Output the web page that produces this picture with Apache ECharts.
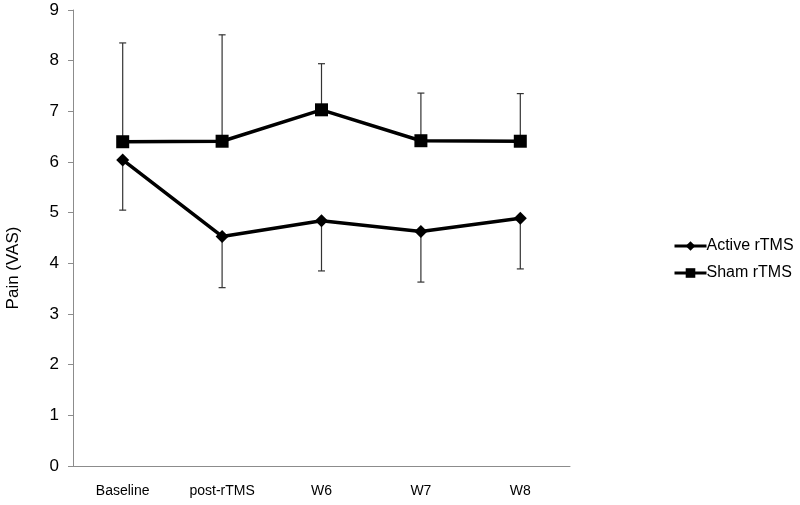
<!DOCTYPE html>
<html>
<head>
<meta charset="utf-8">
<script src="https://cdn.jsdelivr.net/npm/echarts@6/dist/echarts.min.js"></script>
<style>
  html, body { margin: 0; padding: 0; background: #fff; }
  #chart { width: 800px; height: 505px; }
</style>
</head>
<body>
<div id="chart"></div>
<script>
const categories = ['Baseline', 'post-rTMS', 'W6', 'W7', 'W8'];
const activeMean = [6.04, 4.53, 4.84, 4.63, 4.89];
const activeLow = [5.05, 3.52, 3.85, 3.63, 3.89];   // mean - SD
const shamMean = [6.40, 6.41, 7.03, 6.42, 6.41];
const shamHigh = [8.35, 8.51, 7.94, 7.36, 7.35];    // mean + SD
const yTicks = [0, 1, 2, 3, 4, 5, 6, 7, 8, 9];

const font = 'Liberation Sans, Arial, sans-serif';
const diamond = 'path://M0,-1L1,0L0,1L-1,0Z';

// whisker + cap for each point
function errorBars(means, bounds) {
  return means.map((m, i) => [i, m, bounds[i]]);
}

function renderWhisker(params, api) {
  const x = api.value(0);
  const p0 = api.coord([x, api.value(1)]);
  const p1 = api.coord([x, api.value(2)]);
  const style = { stroke: '#333', lineWidth: 1.2 };
  return {
    type: 'group',
    children: [
      { type: 'line', shape: { x1: p0[0], y1: p0[1], x2: p1[0], y2: p1[1] }, style: style },
      { type: 'line', shape: { x1: p1[0] - 3.5, y1: p1[1], x2: p1[0] + 3.5, y2: p1[1] }, style: style }
    ]
  };
}

const myChart = echarts.init(document.getElementById('chart'));

const option = {
  animation: false,
  backgroundColor: '#fff',
  grid: { left: 73, right: 230, top: 10, bottom: 39 },
  legend: {
    orient: 'vertical',
    left: 668,
    top: 233,
    itemWidth: 32,
    itemHeight: 12,
    itemGap: 11,
    data: ['Active rTMS', 'Sham rTMS'],
    lineStyle: { width: 3 },
    textStyle: { fontFamily: font, fontSize: 16, color: '#000', padding: [0, 0, 0, -5] }
  },
  xAxis: {
    type: 'category',
    data: categories,
    axisLine: { lineStyle: { color: '#8c8c8c', width: 1 } },
    axisTick: { length: 5, lineStyle: { color: '#8c8c8c' } },
    axisLabel: { fontFamily: font, fontSize: 14, color: '#000', margin: 18 }
  },
  yAxis: {
    type: 'value',
    min: 0,
    max: yTicks[yTicks.length - 1],
    interval: 1,
    splitLine: { show: false },
    axisLine: { show: true, lineStyle: { color: '#8c8c8c', width: 1 } },
    axisTick: { show: true, length: 5, lineStyle: { color: '#8c8c8c' } },
    axisLabel: { fontFamily: font, fontSize: 17, color: '#000', margin: 14 }
  },
  graphic: [{
    type: 'text',
    x: 5,
    y: 268,
    rotation: Math.PI / 2,
    style: {
      text: 'Pain (VAS)',
      fontFamily: font,
      fontSize: 17,
      fill: '#000',
      align: 'center',
      verticalAlign: 'top'
    }
  }],
  series: [
    {
      name: 'activeErr',
      type: 'custom',
      renderItem: renderWhisker,
      data: errorBars(activeMean, activeLow),
      encode: { x: 0, y: [1, 2] },
      z: 1,
      silent: true
    },
    {
      name: 'shamErr',
      type: 'custom',
      renderItem: renderWhisker,
      data: errorBars(shamMean, shamHigh),
      encode: { x: 0, y: [1, 2] },
      z: 1,
      silent: true
    },
    {
      name: 'Active rTMS',
      type: 'line',
      data: activeMean,
      symbol: diamond,
      symbolSize: 13,
      lineStyle: { color: '#000', width: 3.5 },
      itemStyle: { color: '#000' },
      z: 3
    },
    {
      name: 'Sham rTMS',
      type: 'line',
      data: shamMean,
      symbol: 'rect',
      symbolSize: 13,
      lineStyle: { color: '#000', width: 3.5 },
      itemStyle: { color: '#000' },
      z: 3
    }
  ]
};

myChart.setOption(option);
window.addEventListener('resize', myChart.resize);
</script>
</body>
</html>
